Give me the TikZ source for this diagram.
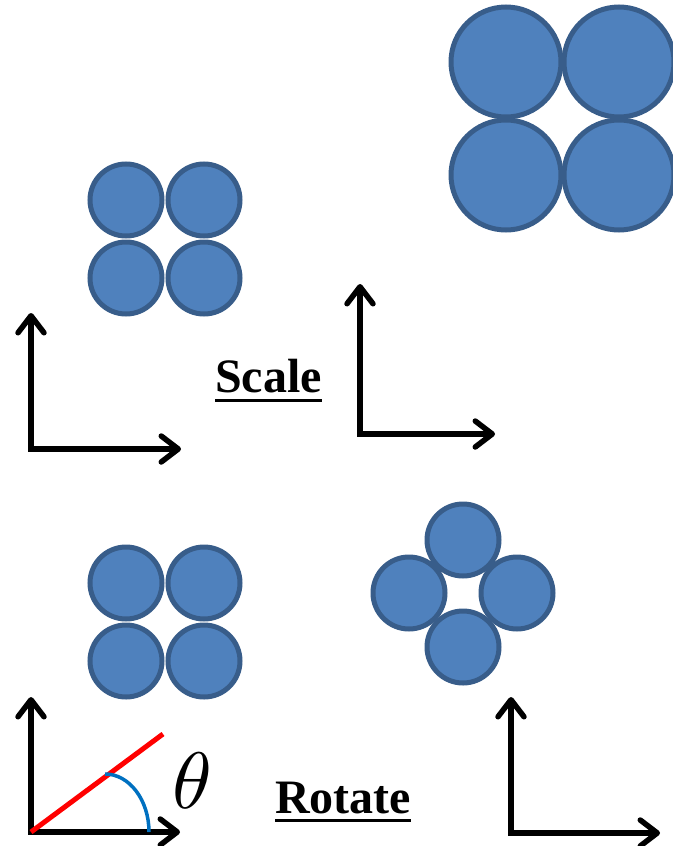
\documentclass[tikz,border=0pt]{standalone}
\usepackage{fontspec}
\setmainfont{Liberation Serif}
\usetikzlibrary{arrows.meta}
\definecolor{cfill}{HTML}{4F81BD}
\definecolor{cline}{HTML}{385D8A}
\definecolor{arcblue}{HTML}{0070C0}
\begin{document}
\begin{tikzpicture}[x=1pt,y=-1pt,
  ball/.style={circle,draw=cline,fill=cfill,line width=5pt,inner sep=0pt},
  sball/.style={ball,minimum size=72pt},
  bball/.style={ball,minimum size=110pt},
  axis/.style={line width=5.5pt,line cap=rect,-{Straight Barb[length=17pt,width=26pt,round]}},
  lbl/.style={font=\fontsize{48}{50}\selectfont\bfseries,inner sep=0pt,anchor=base west},
  uline/.style={line width=3pt}]
\useasboundingbox (0,0) rectangle (672,846);
% scale: before
\node[sball] (a1) at (126,200) {};
\node[sball] (a2) at (204,200) {};
\node[sball] (a3) at (126,278) {};
\node[sball] (a4) at (204,278) {};
% scale: after
\node[bball] (b1) at (506,62) {};
\node[bball] (b2) at (619,62) {};
\node[bball] (b3) at (506,175) {};
\node[bball] (b4) at (619,175) {};
% rotate: before
\node[sball] (c1) at (126,583) {};
\node[sball] (c2) at (204,583) {};
\node[sball] (c3) at (126,661) {};
\node[sball] (c4) at (204,661) {};
% rotate: after
\node[sball] (d1) at (463,540) {};
\node[sball] (d2) at (409,593) {};
\node[sball] (d3) at (517,593) {};
\node[sball] (d4) at (463,647) {};
% axes
\coordinate (o1) at (31,449); \coordinate (y1) at (31,313); \coordinate (x1) at (181,449);
\coordinate (o2) at (360,434); \coordinate (y2) at (360,284); \coordinate (x2) at (495,434);
\coordinate (o3) at (31,832); \coordinate (y3) at (31,697); \coordinate (x3) at (180,832);
\coordinate (o4) at (511,833); \coordinate (y4) at (511,697); \coordinate (x4) at (660,833);
\draw[axis] (o1) -- (y1); \draw[axis] (o1) -- (x1);
\draw[axis] (o2) -- (y2); \draw[axis] (o2) -- (x2);
\draw[axis] (o3) -- (y3); \draw[axis] (o3) -- (x3);
\draw[axis] (o4) -- (y4); \draw[axis] (o4) -- (x4);
% angle
\coordinate (r1) at (163,734);
\draw[red,line width=5pt] (o3) -- (r1);
\coordinate (arcs) at (105,774);
\draw[arcblue,line width=3.5pt] (arcs) arc[start angle=-90,end angle=0,x radius=44,y radius=58];
\node[scale=8] (th) at (192,781) {$\theta$};
% labels
\node[lbl] (sc) at (215,392) {Scale};
\draw[uline] ([yshift=-8pt]sc.base west) -- ([yshift=-8pt]sc.base east);
\node[lbl] (ro) at (275,813) {Rotate};
\draw[uline] ([yshift=-7pt]ro.base west) -- ([yshift=-7pt]ro.base east);
\end{tikzpicture}
\end{document}
